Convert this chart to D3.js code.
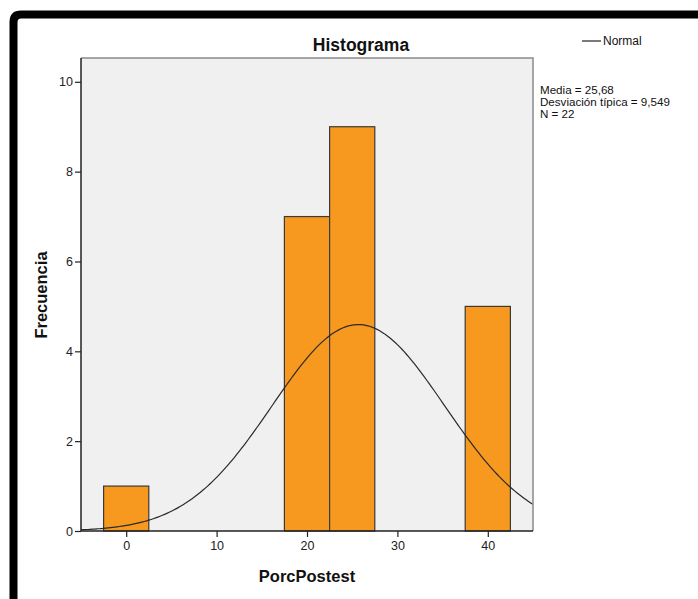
<!DOCTYPE html>
<html><head><meta charset="utf-8">
<script src="https://cdn.jsdelivr.net/npm/d3@7"></script>
<style>body{margin:0;background:#fff;}svg{display:block;}</style>
</head><body>
<svg id="c" width="698" height="599"></svg>
<script>
// Data
const binStarts = [-2.5, 17.5, 22.5, 37.5];
const binWidth = 5;
const counts = [1, 7, 9, 5];
const xTicks = [0, 10, 20, 30, 40];
const yTicks = [0, 2, 4, 6, 8, 10];
const stats = {mean: 25.68, sd: 9.549, n: 22};
const statLines = ["Media = 25,68", "Desviación típica = 9,549", "N = 22"];

const svg = d3.select("#c");
const font = "Arial, 'Liberation Sans', sans-serif";

// outer frame (black border)
svg.append("path")
  .attr("d", "M13.5,599 L13.5,22 Q13.5,14.5 21,14.5 L698,14.5")
  .attr("fill", "none").attr("stroke", "#000").attr("stroke-width", 8);

const L = 81, R = 533, T = 58, B = 531;
const x = d3.scaleLinear().domain([-5, 45]).range([L, R]);
const y = d3.scaleLinear().domain([0, 10.53]).range([B, T]);

svg.append("rect").attr("x", L).attr("y", T).attr("width", R - L).attr("height", B - T)
  .attr("fill", "#f0f0f0");

// bars
svg.append("g").selectAll("rect").data(binStarts).join("rect")
  .attr("x", (d) => x(d))
  .attr("width", (d) => x(d + binWidth) - x(d))
  .attr("y", (d, i) => y(counts[i]))
  .attr("height", (d, i) => y(0) - y(counts[i]))
  .attr("fill", "#f7991f").attr("stroke", "#3a3a3a").attr("stroke-width", 1.2);

// normal curve
const clip = svg.append("clipPath").attr("id", "pc").append("rect")
  .attr("x", L).attr("y", T).attr("width", R - L).attr("height", B - T);
const xs = d3.range(-5, 45.01, 0.25);
const scale = stats.n * binWidth / (stats.sd * Math.sqrt(2 * Math.PI));
const pdf = (v) => scale * Math.exp(-0.5 * Math.pow((v - stats.mean) / stats.sd, 2));
svg.append("path").datum(xs)
  .attr("clip-path", "url(#pc)")
  .attr("d", d3.line().x((d) => x(d)).y((d) => y(pdf(d))))
  .attr("fill", "none").attr("stroke", "#2a2a2a").attr("stroke-width", 1.2);

// plot frame: top/right gray
svg.append("path").attr("d", `M${L},${T}H${R}V${B}`)
  .attr("fill", "none").attr("stroke", "#8a8a8a").attr("stroke-width", 1.5);

// axes
const xAxis = svg.append("g").attr("transform", `translate(0,${B})`)
  .call(d3.axisBottom(x).tickValues(xTicks).tickSize(6).tickSizeOuter(0).tickPadding(4));
const yAxis = svg.append("g").attr("transform", `translate(${L},0)`)
  .call(d3.axisLeft(y).tickValues(yTicks).tickSize(6).tickSizeOuter(0).tickPadding(2));
[xAxis, yAxis].forEach((g) => {
  g.select(".domain").attr("stroke", "#222").attr("stroke-width", 1.5);
  g.selectAll(".tick line").attr("stroke", "#222").attr("stroke-width", 1.2);
  g.selectAll(".tick text").attr("font-family", font).attr("font-size", 12.5).attr("fill", "#222");
});
xAxis.select(".domain").attr("d", `M${L},0H${R}`);
yAxis.select(".domain").attr("d", `M0,${B}V${T}`);

// title
svg.append("text").attr("x", 361).attr("y", 51).attr("text-anchor", "middle")
  .attr("font-family", font).attr("font-weight", "bold").attr("font-size", 17.5).attr("fill", "#111")
  .text("Histograma");

// axis labels
svg.append("text").attr("x", 307).attr("y", 582).attr("text-anchor", "middle")
  .attr("font-family", font).attr("font-weight", "bold").attr("font-size", 16.5).attr("fill", "#111")
  .text("PorcPostest");
svg.append("text").attr("transform", "translate(47,295) rotate(-90)").attr("text-anchor", "middle")
  .attr("font-family", font).attr("font-weight", "bold").attr("font-size", 16.5).attr("fill", "#111")
  .text("Frecuencia");

// legend
svg.append("line").attr("x1", 582).attr("x2", 601).attr("y1", 41).attr("y2", 41)
  .attr("stroke", "#222").attr("stroke-width", 1.2);
svg.append("text").attr("x", 603).attr("y", 45).attr("font-family", font).attr("font-size", 12)
  .attr("fill", "#111").text("Normal");

svg.append("g").selectAll("text").data(statLines).join("text")
  .attr("x", 540).attr("y", (d, i) => 94 + i * 12)
  .attr("font-family", font).attr("font-size", 11.6).attr("fill", "#111")
  .text((d) => d);
</script>
</body></html>
